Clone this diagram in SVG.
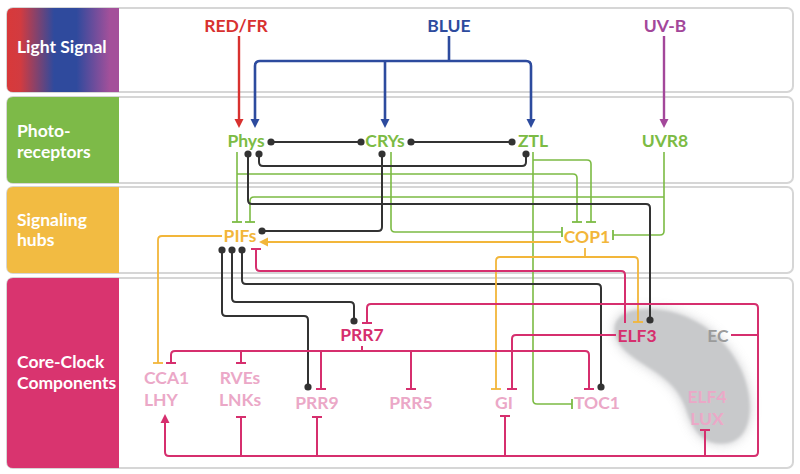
<svg xmlns="http://www.w3.org/2000/svg" width="800" height="474" viewBox="0 0 800 474">
<defs>
<linearGradient id="lg" x1="0" y1="0" x2="1" y2="0">
<stop offset="0" stop-color="#d8393a"/><stop offset="0.12" stop-color="#d23b40"/><stop offset="0.42" stop-color="#2f4a9d"/><stop offset="0.62" stop-color="#2f4a9d"/><stop offset="0.92" stop-color="#a4509a"/><stop offset="1" stop-color="#a4509a"/>
</linearGradient>
<filter id="blur" x="-30%" y="-30%" width="160%" height="160%"><feGaussianBlur stdDeviation="6"/></filter>
<filter id="soft" x="-10%" y="-10%" width="120%" height="120%"><feGaussianBlur stdDeviation="1.5"/></filter>
<marker id="aR" markerUnits="userSpaceOnUse" markerWidth="10" markerHeight="10" viewBox="0 0 10 10" refX="0" refY="5" orient="auto"><path d="M0,0.5 L9,5 L0,9.5 Z" fill="#d8312f"/></marker>
<marker id="aB" markerUnits="userSpaceOnUse" markerWidth="10" markerHeight="10" viewBox="0 0 10 10" refX="0" refY="5" orient="auto"><path d="M0,0.5 L9,5 L0,9.5 Z" fill="#2d4b9e"/></marker>
<marker id="aP" markerUnits="userSpaceOnUse" markerWidth="10" markerHeight="10" viewBox="0 0 10 10" refX="0" refY="5" orient="auto"><path d="M0,0.5 L9,5 L0,9.5 Z" fill="#a3479a"/></marker>
<marker id="aY" markerUnits="userSpaceOnUse" markerWidth="10" markerHeight="10" viewBox="0 0 10 10" refX="0" refY="5" orient="auto"><path d="M0,0.5 L9,5 L0,9.5 Z" fill="#f2b63a"/></marker>
<marker id="aM" markerUnits="userSpaceOnUse" markerWidth="10" markerHeight="10" viewBox="0 0 10 10" refX="0" refY="5" orient="auto"><path d="M0,0.5 L9,5 L0,9.5 Z" fill="#d62f6e"/></marker>
<marker id="tG" markerUnits="userSpaceOnUse" markerWidth="4" markerHeight="14" viewBox="-2 -7 4 14" refX="0" refY="0" orient="auto"><path d="M0,-5V5" stroke="#7cbb44" stroke-width="1.8"/></marker>
<marker id="tY" markerUnits="userSpaceOnUse" markerWidth="4" markerHeight="14" viewBox="-2 -7 4 14" refX="0" refY="0" orient="auto"><path d="M0,-5V5" stroke="#f2b63a" stroke-width="1.8"/></marker>
<marker id="tM" markerUnits="userSpaceOnUse" markerWidth="4" markerHeight="14" viewBox="-2 -7 4 14" refX="0" refY="0" orient="auto"><path d="M0,-5V5" stroke="#d62f6e" stroke-width="2"/></marker>
<marker id="dK" markerUnits="userSpaceOnUse" markerWidth="10" markerHeight="10" viewBox="-5 -5 10 10" refX="0" refY="0"><circle r="3.6" fill="#333333"/></marker>
</defs>
<style>
.pan{fill:#ffffff;stroke:#d6d6d6;stroke-width:2}
.lab{font-family:Lato,"Liberation Sans",sans-serif;font-weight:700;font-size:17.5px;fill:#ffffff}
.t{font-family:Lato,"Liberation Sans",sans-serif;font-weight:700;font-size:17.5px;text-anchor:middle}
.c{fill:none;stroke-linejoin:round}
.k{stroke:#333333;stroke-width:2;marker-start:url(#dK);marker-end:url(#dK)}
.g{stroke:#7cbb44;stroke-width:1.6}
.y{stroke:#f2b63a;stroke-width:1.8}
.m{stroke:#d62f6e;stroke-width:2}
.b{stroke:#2d4b9e;stroke-width:2.6}
.tg{marker-end:url(#tG)}
.ty{marker-end:url(#tY)}
.tm{marker-end:url(#tM)}
.green{fill:#7cbb44}.yellow{fill:#f2b63a}.mag{fill:#d62f6e}.pink{fill:#eba8c7}.gray{fill:#9b9b9b}
</style>

<g id="panels">
<rect class="pan" x="7" y="8" width="786" height="84" rx="6"/>
<rect class="pan" x="7" y="97" width="786" height="86" rx="6"/>
<rect class="pan" x="7" y="187" width="786" height="86" rx="6"/>
<rect class="pan" x="7" y="278" width="786" height="190" rx="6"/>
<path d="M119,8V92H13Q7,92 7,86V14Q7,8 13,8Z" fill="url(#lg)"/>
<path d="M119,97V183H13Q7,183 7,177V103Q7,97 13,97Z" fill="#7dba48"/>
<path d="M119,187V273H13Q7,273 7,267V193Q7,187 13,187Z" fill="#f2bb42"/>
<path d="M119,278V468H13Q7,468 7,462V284Q7,278 13,278Z" fill="#d9346f"/>
<text class="lab" x="17" y="53">Light Signal</text>
<text class="lab" x="17" y="137">Photo-</text>
<text class="lab" x="17" y="158">receptors</text>
<text class="lab" x="17" y="226">Signaling</text>
<text class="lab" x="17" y="246">hubs</text>
<text class="lab" x="17" y="368">Core-Clock</text>
<text class="lab" x="17" y="389">Components</text>
</g>

<g id="ec-blob">
<path d="M640,310 C684,306 722,332 740,368 C756,402 752,440 726,443 C702,446 692,428 686,408 C676,380 654,372 632,356 C606,337 610,312 640,310 Z" fill="#b9babd" filter="url(#blur)" opacity="0.8"/>
<path d="M640,310 C684,306 722,332 740,368 C756,402 752,440 726,443 C702,446 692,428 686,408 C676,380 654,372 632,356 C606,337 610,312 640,310 Z" fill="#c8c9cb" filter="url(#soft)"/>
</g>

<g id="connectors">
<path class="c" d="M239,36V119" stroke="#d8312f" stroke-width="2.4" marker-end="url(#aR)"/>
<path class="c b" d="M449,36V61"/>
<path class="c b" d="M449,61H260Q255,61 255,66V119" marker-end="url(#aB)"/>
<path class="c b" d="M449,61H526Q531,61 531,66V119" marker-end="url(#aB)"/>
<path class="c b" d="M385,61V119" marker-end="url(#aB)"/>
<path class="c" d="M664,36V119" stroke="#a3479a" stroke-width="2.4" marker-end="url(#aP)"/>

<path class="c g tg" d="M237,152V222"/>
<path class="c g tg" d="M237,174H573Q577,174 577,178V222"/>
<path class="c g tg" d="M664,197H254Q250,197 250,201V222"/>
<path class="c g tg" d="M664,152V231Q664,235 660,235H613"/>
<path class="c g tg" d="M391,152V228Q391,232 395,232H562"/>
<path class="c g tg" d="M533,160H587Q591,160 591,164V222"/>
<path class="c g tg" d="M533,152V400Q533,404 537,404H572"/>

<path class="c k" d="M271,142H361"/>
<path class="c k" d="M411,142H512"/>
<path class="c k" d="M259,154V162Q259,166 263,166H522Q526,166 526,162V154"/>
<path class="c k" d="M248,154V200Q248,204 252,204H646Q650,204 650,208V320"/>
<path class="c k" d="M382,154V227Q382,231 378,231H262"/>
<path class="c k" d="M242,250V280Q242,284 246,284H597Q601,284 601,288V387"/>
<path class="c k" d="M232,250V298Q232,302 236,302H350Q354,302 354,306V321"/>
<path class="c k" d="M222,250V312Q222,316 226,316H304Q308,316 308,320V387"/>

<path class="c y" d="M561,242H268" marker-end="url(#aY)"/>
<path class="c y ty" d="M222,236H162Q158,236 158,240V363"/>
<path class="c y" d="M585,248V257"/>
<path class="c y ty" d="M496,389V261Q496,257 500,257H634Q638,257 638,261V322" marker-start="url(#tY)"/>

<path class="c m tm" d="M625,323V275Q625,271 621,271H260Q256,271 256,267V249"/>
<path class="c m tm" d="M616,335H516Q512,335 512,339V389"/>
<path class="c m" d="M731,335H758"/>
<path class="c m" d="M367,323V308Q367,304 371,304H754Q758,304 758,308V452Q758,456 754,456H169Q165,456 165,452V423" marker-start="url(#tM)" marker-end="url(#aM)"/>
<path class="c m tm" d="M241,456V417"/>
<path class="c m tm" d="M317,456V417"/>
<path class="c m tm" d="M505,456V416"/>
<path class="c m tm" d="M705,456V430"/>
<path class="c m" d="M362,346V351"/>
<path class="c m tm" d="M171,363V355Q171,351 175,351H585Q589,351 589,355V389" marker-start="url(#tM)"/>
<path class="c m tm" d="M241,351V363"/>
<path class="c m tm" d="M321,351V389"/>
<path class="c m tm" d="M411,351V389"/>
</g>

<g id="red-fr"><text class="t" x="236" y="32" fill="#d8312f">RED/FR</text></g>
<g id="blue"><text class="t" x="449" y="32" fill="#2d4b9e">BLUE</text></g>
<g id="uv-b"><text class="t" x="665" y="32" fill="#a3479a">UV-B</text></g>
<g id="phys"><text class="t green" x="246" y="147">Phys</text></g>
<g id="crys"><text class="t green" x="385" y="147">CRYs</text></g>
<g id="ztl"><text class="t green" x="533" y="147">ZTL</text></g>
<g id="uvr8"><text class="t green" x="665" y="147">UVR8</text></g>
<g id="pifs"><text class="t yellow" x="240" y="242">PIFs</text></g>
<g id="cop1"><text class="t yellow" x="587" y="243">COP1</text></g>
<g id="prr7"><text class="t mag" x="362" y="341">PRR7</text></g>
<g id="elf3"><text class="t mag" x="637" y="342">ELF3</text></g>
<g id="ec"><text class="t gray" x="718" y="342">EC</text></g>
<g id="cca1-lhy"><text class="t pink" x="144" y="384" style="text-anchor:start">CCA1</text><text class="t pink" x="144" y="406" style="text-anchor:start">LHY</text></g>
<g id="rves-lnks"><text class="t pink" x="240" y="384">RVEs</text><text class="t pink" x="240" y="406">LNKs</text></g>
<g id="prr9"><text class="t pink" x="317" y="409">PRR9</text></g>
<g id="prr5"><text class="t pink" x="411" y="409">PRR5</text></g>
<g id="gi"><text class="t pink" x="504" y="409">GI</text></g>
<g id="toc1"><text class="t pink" x="597" y="409">TOC1</text></g>
<g id="elf4-lux"><text class="t pink" x="707" y="403">ELF4</text><text class="t pink" x="707" y="425">LUX</text></g>
</svg>
